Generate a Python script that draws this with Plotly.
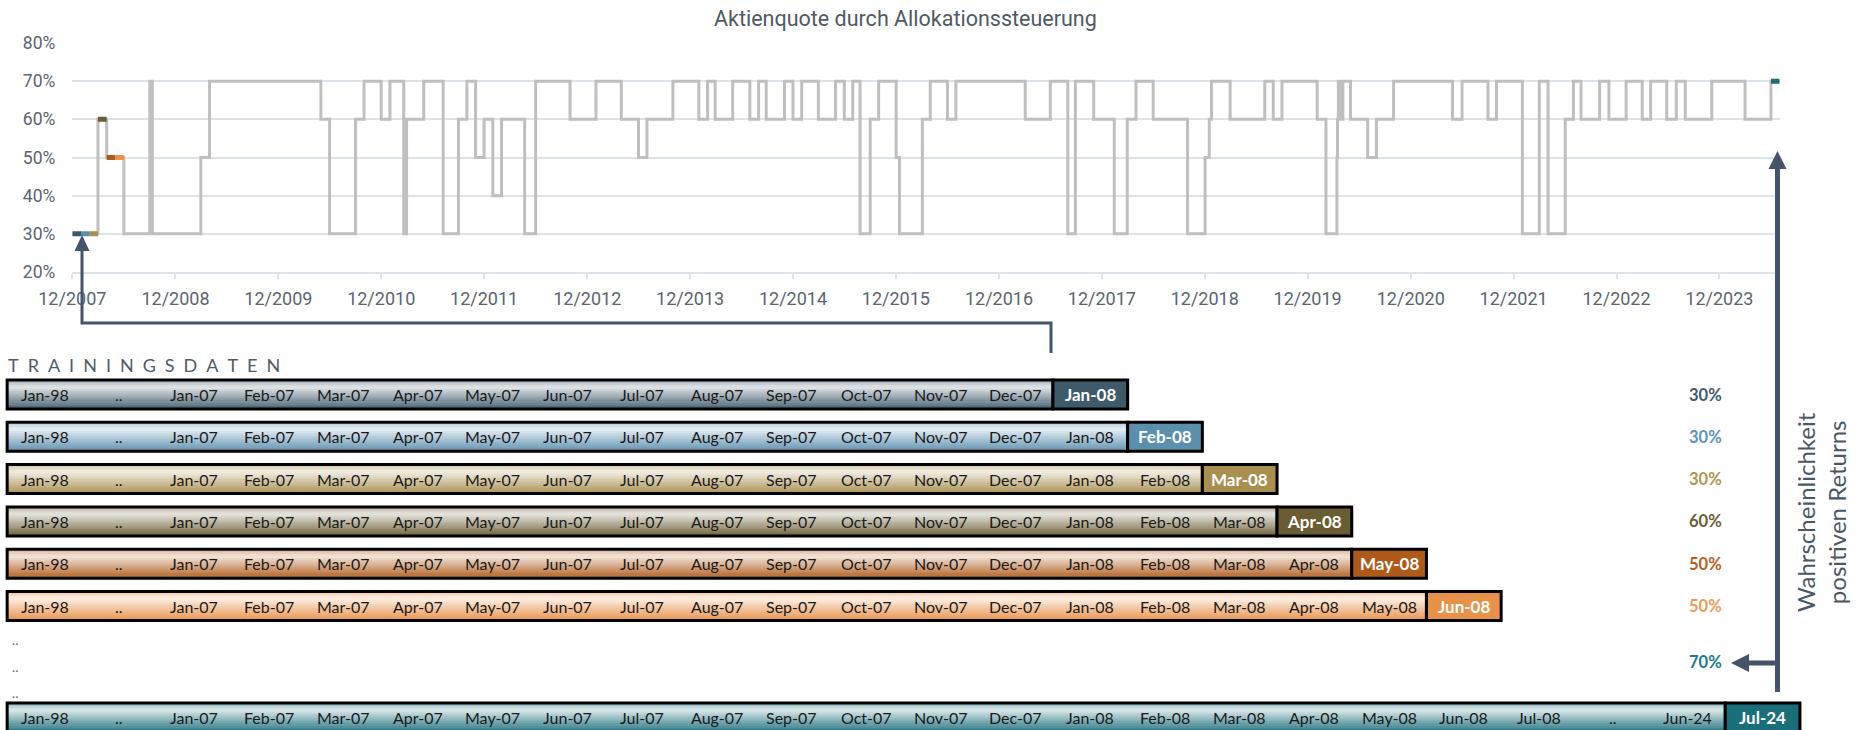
import plotly.graph_objects as go
import pandas as pd

W, H = 1871, 730

# ---------------- data ----------------
# equity quota (Aktienquote, %) change points: value holds until next date
alloc_dates = [
    "2007-12-01", "2008-03-01", "2008-04-01", "2008-06-01", "2008-09-01", "2008-09-10",
    "2009-03-01", "2009-04-01", "2010-05-01", "2010-06-01", "2010-09-01", "2010-10-01",
    "2010-12-01", "2011-01-01", "2011-02-19", "2011-03-01", "2011-05-01", "2011-07-09",
    "2011-09-01", "2011-10-01", "2011-11-01", "2011-12-01", "2012-01-01", "2012-02-01",
    "2012-04-23", "2012-06-01", "2012-10-01", "2013-01-01", "2013-04-01", "2013-06-01",
    "2013-07-01", "2013-10-01", "2014-01-01", "2014-02-01", "2014-02-28", "2014-05-01",
    "2014-07-01", "2014-08-01", "2014-08-28", "2014-11-01", "2014-12-01", "2015-01-01",
    "2015-03-01", "2015-05-01", "2015-06-01", "2015-07-01", "2015-07-27", "2015-09-01",
    "2015-10-01", "2015-12-02", "2015-12-14", "2016-03-04", "2016-04-01", "2016-06-01",
    "2016-07-01", "2017-03-04", "2017-06-01", "2017-08-02", "2017-08-29", "2017-11-02",
    "2018-01-14", "2018-03-01", "2018-04-01", "2018-06-01", "2018-10-01", "2018-12-02",
    "2018-12-17", "2018-12-25", "2019-03-01", "2019-07-02", "2019-08-01", "2019-09-01",
    "2020-01-04", "2020-02-04", "2020-03-14", "2020-03-16", "2020-03-19", "2020-03-23",
    "2020-03-26", "2020-04-01", "2020-04-04", "2020-05-01", "2020-07-01", "2020-08-01",
    "2020-10-01", "2021-04-28", "2021-06-01", "2021-09-01", "2021-10-01", "2022-01-01",
    "2022-03-02", "2022-04-02", "2022-06-02", "2022-07-01", "2022-07-28", "2022-10-02",
    "2022-11-04", "2023-01-04", "2023-03-02", "2023-04-01", "2023-05-28", "2023-07-01",
    "2023-08-02", "2023-11-04", "2024-03-01", "2024-06-01", "2024-07-01",
]
alloc_values = [
    30, 60, 50, 30, 70, 30,
    50, 70, 60, 30, 60, 70,
    60, 70, 30, 60, 70, 30,
    60, 70, 50, 60, 40, 60,
    30, 70, 60, 70, 60, 50,
    60, 70, 60, 70, 60, 70,
    60, 70, 60, 70, 60, 70,
    60, 70, 60, 70, 30, 60,
    70, 50, 30, 60, 70, 60,
    70, 60, 70, 30, 70, 60,
    30, 60, 70, 60, 30, 50,
    60, 70, 60, 70, 60, 70,
    60, 30, 50, 60, 70, 60,
    70, 60, 70, 60, 50, 60,
    70, 60, 70, 60, 70, 30,
    70, 30, 60, 70, 60, 70,
    60, 70, 60, 70, 60, 70,
    60, 70, 60, 70, 70,
]

# predicted months and probability of positive returns (%)
pred_months = ["Jan-08", "Feb-08", "Mar-08", "Apr-08", "May-08", "Jun-08", "Jul-24"]
pred_values = [30, 30, 30, 60, 50, 50, 70]
pred_colors = ["#3F5A6B", "#5B8FAE", "#A88F4E", "#6B5D33", "#B05A1A", "#E8914A", "#1A6E7A"]
pct_colors = ["#3F5A6B", "#5B95B8", "#B09650", "#6B5D33", "#B85E1C", "#EE9A52", "#1A7A87"]

# training-window labels
slot_labels = ["Jan-98", "..", "Jan-07", "Feb-07", "Mar-07", "Apr-07", "May-07", "Jun-07",
               "Jul-07", "Aug-07", "Sep-07", "Oct-07", "Nov-07", "Dec-07",
               "Jan-08", "Feb-08", "Mar-08", "Apr-08", "May-08", "Jun-08"]
last_row_labels = ["Jan-98", "..", "Jan-07", "Feb-07", "Mar-07", "Apr-07", "May-07", "Jun-07",
                   "Jul-07", "Aug-07", "Sep-07", "Oct-07", "Nov-07", "Dec-07",
                   "Jan-08", "Feb-08", "Mar-08", "Apr-08", "May-08", "Jun-08", "Jul-08",
                   "..", "Jun-24"]

title_text = "Aktienquote durch Allokationssteuerung"
side_text = "Wahrscheinlichkeit<br>positiven Returns"
train_title = "TRAININGSDATEN"

# ---------------- helpers (pixel -> paper) ----------------
def PX(x):
    return x / W

def PY(y):
    return 1 - y / H

def hex2rgb(c):
    c = c.lstrip("#")
    return tuple(int(c[i:i + 2], 16) for i in (0, 2, 4))

def tint(c, f):
    r, g, b = hex2rgb(c)
    return "rgb(%d,%d,%d)" % (r + (255 - r) * f, g + (255 - g) * f, b + (255 - b) * f)

def white_frac(t):
    if t < 0.22:
        return 0.55 + 0.30 * t / 0.22
    return 0.85 - 0.78 * (t - 0.22) / 0.78

AX = "#44546A"
fig = go.Figure()

# ---------------- top chart ----------------
fig.add_trace(go.Scatter(
    x=alloc_dates, y=alloc_values, mode="lines", line=dict(color="#BFBFBF", width=3, shape="hv"),
    hoverinfo="skip", showlegend=False))

for m, v, c in zip(pred_months, pred_values, pred_colors):
    end = pd.to_datetime(m, format="%b-%y")
    start = end - pd.DateOffset(months=1)
    fig.add_trace(go.Scatter(
        x=[start, end], y=[v, v], mode="lines", line=dict(color=c, width=5),
        hoverinfo="skip", showlegend=False))

grid = "#DCE3E9"
fig.update_layout(
    width=W, height=H, margin=dict(l=0, r=0, t=0, b=0, autoexpand=False),
    paper_bgcolor="white", plot_bgcolor="white", showlegend=False,
    xaxis=dict(domain=[PX(72.3), PX(1780)], type="date", automargin=False,
               range=["2007-12-01", "2024-07-03"], tick0="2007-12-01", dtick="M12",
               tickformat="%m/%Y", showgrid=False, zeroline=False,
               showline=True, linecolor=grid, linewidth=1.5,
               ticks="outside", ticklen=5, tickcolor=grid, tickwidth=1.5,
               ticklabelstandoff=5,
               tickfont=dict(family="Roboto", size=18, color="#5A6570")),
    yaxis=dict(domain=[PY(272), PY(43)], range=[20, 80], dtick=10, ticksuffix="%",
               automargin=False,
               showgrid=True, gridcolor=grid, gridwidth=1.5, zeroline=False,
               showline=False, ticklabelstandoff=16,
               tickfont=dict(family="Roboto", size=17.5, color="#5A6570")),
)

shapes = []
annotations = []

annotations.append(dict(x=PX(905), y=PY(19), xref="paper", yref="paper", text=title_text,
                        showarrow=False, xanchor="center", yanchor="middle",
                        font=dict(family="Roboto", size=21.5, color="#505A64")))

# ---------------- training rows ----------------
SLOT0, SLOTW = 7.15, 74.7
ROW_H = 29

def slot_x(i):
    return SLOT0 + SLOTW * i

def add_row(top, n_slots, labels, color, pred_label):
    bot = top + ROW_H
    x0, x1 = slot_x(0), slot_x(n_slots)
    n = 14
    ih0, ih1 = top + 1, bot - 1
    step = (ih1 - ih0) / n
    for k in range(n):
        t = (k + 0.5) / n
        shapes.append(dict(type="rect", xref="paper", yref="paper",
                           x0=PX(x0), x1=PX(x1), y0=PY(ih0 + k * step), y1=PY(ih0 + (k + 1) * step + 0.6),
                           fillcolor=tint(color, white_frac(t)), line=dict(width=0), layer="above"))
    shapes.append(dict(type="rect", xref="paper", yref="paper",
                       x0=PX(x0), x1=PX(x1), y0=PY(top), y1=PY(bot),
                       fillcolor="rgba(0,0,0,0)", line=dict(color="#000000", width=3), layer="above"))
    shapes.append(dict(type="rect", xref="paper", yref="paper",
                       x0=PX(x1), x1=PX(slot_x(n_slots + 1)), y0=PY(top), y1=PY(bot),
                       fillcolor=color, line=dict(color="#000000", width=3), layer="above"))
    cy = top + ROW_H / 2
    for i, lab in enumerate(labels[:n_slots]):
        annotations.append(dict(x=PX(slot_x(i) + SLOTW / 2), y=PY(cy), xref="paper", yref="paper",
                                text=lab, showarrow=False, xanchor="center", yanchor="middle",
                                font=dict(family="Lato", size=16, color="#1A1A1A")))
    annotations.append(dict(x=PX(slot_x(n_slots) + SLOTW / 2), y=PY(cy), xref="paper", yref="paper",
                            text="<b>%s</b>" % pred_label, showarrow=False,
                            xanchor="center", yanchor="middle",
                            font=dict(family="Lato", size=17, color="#FFFFFF")))

for r in range(6):
    add_row(380 + 42.3 * r, 14 + r, slot_labels, pred_colors[r], pred_months[r])
add_row(703, 23, last_row_labels, pred_colors[6], pred_months[6])

pct_y = [380 + 42.3 * r + ROW_H / 2 for r in range(6)] + [662]
for v, c, yy in zip(pred_values, pct_colors, pct_y):
    annotations.append(dict(x=PX(1705), y=PY(yy), xref="paper", yref="paper",
                            text="<b>%d%%</b>" % v, showarrow=False, xanchor="center", yanchor="middle",
                            font=dict(family="Lato", size=16.5, color=c)))

for yy in (639, 666, 692):
    annotations.append(dict(x=PX(16), y=PY(yy), xref="paper", yref="paper", text="..",
                            showarrow=False, xanchor="center", yanchor="middle",
                            font=dict(family="Lato", size=14, color="#6F6F6F")))

annotations.append(dict(x=PX(6), y=PY(365), xref="paper", yref="paper",
                        text="\u2002".join(train_title), showarrow=False,
                        xanchor="left", yanchor="middle",
                        font=dict(family="Lato", size=18, color="#505C68")))

annotations.append(dict(x=PX(1821), y=PY(512), xref="paper", yref="paper", text=side_text,
                        showarrow=False, textangle=-90, xanchor="center", yanchor="middle",
                        font=dict(family="Lato", size=24, color="#4A5866")))

# ---------------- arrows / connectors ----------------
def path(pts):
    return "M " + " L ".join("%.5f,%.5f" % (PX(x), PY(y)) for x, y in pts)

shapes.append(dict(type="path", xref="paper", yref="paper",
                   path=path([(82, 249), (82, 323), (1051, 323), (1051, 353)]),
                   line=dict(color=AX, width=3), layer="above"))
shapes.append(dict(type="path", xref="paper", yref="paper",
                   path=path([(82, 235), (74.5, 251), (89.5, 251)]) + " Z",
                   fillcolor=AX, line=dict(width=0), layer="above"))

shapes.append(dict(type="path", xref="paper", yref="paper",
                   path=path([(1777.5, 166), (1777.5, 692)]),
                   line=dict(color=AX, width=5), layer="above"))
shapes.append(dict(type="path", xref="paper", yref="paper",
                   path=path([(1777.5, 151), (1768.5, 169), (1786.5, 169)]) + " Z",
                   fillcolor=AX, line=dict(width=0), layer="above"))
shapes.append(dict(type="path", xref="paper", yref="paper",
                   path=path([(1777.5, 663), (1746, 663)]),
                   line=dict(color=AX, width=5), layer="above"))
shapes.append(dict(type="path", xref="paper", yref="paper",
                   path=path([(1731, 663), (1749, 654), (1749, 672)]) + " Z",
                   fillcolor=AX, line=dict(width=0), layer="above"))

fig.update_layout(shapes=shapes, annotations=annotations)

fig.write_html("out.html", config={"displayModeBar": False},
               post_script="document.body.style.margin='0';document.body.style.overflow='hidden';")
